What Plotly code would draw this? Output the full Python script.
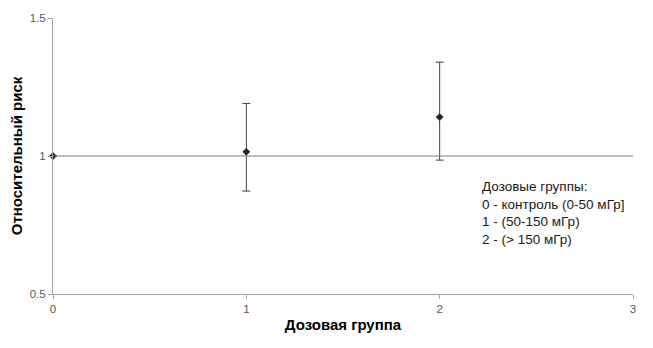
import plotly.graph_objects as go

groups = [0, 1, 2]
rr = [1.0, 1.015, 1.141]
ci_upper = [1.0, 1.19, 1.34]
ci_lower = [1.0, 0.873, 0.985]
x_ticks = [0, 1, 2, 3]
y_ticks = [0.5, 1, 1.5]
legend_lines = ["Дозовые группы:", "0 - контроль (0-50 мГр]", "1 - (50-150 мГр)", "2 - (> 150 мГр)"]

err_plus = [u - v for u, v in zip(ci_upper, rr)]
err_minus = [v - l for v, l in zip(rr, ci_lower)]

fig = go.Figure()
fig.add_hline(y=1, line=dict(color="#7f7f7f", width=1))
fig.add_trace(go.Scatter(
    x=groups, y=rr, mode="markers",
    marker=dict(symbol="diamond", size=6, color="#262626"),
    error_y=dict(type="data", symmetric=False, array=err_plus, arrayminus=err_minus,
                 color="#404040", thickness=1, width=4),
    showlegend=False, cliponaxis=False,
))

fig.add_annotation(
    x=0.736, y=0.425, xref="paper", yref="paper", xanchor="left", yanchor="top",
    text="<br>".join(legend_lines), showarrow=False, align="left",
    font=dict(family="Arial, Liberation Sans, sans-serif", size=13.5, color="#1a1a1a"),
)

fig.update_layout(
    width=645, height=340,
    margin=dict(l=45, r=20, t=10, b=54),
    paper_bgcolor="white", plot_bgcolor="white",
    font=dict(family="Arial, Liberation Sans, sans-serif", size=11.5, color="#595959"),
    xaxis=dict(range=[0, 3], tickvals=x_ticks, showgrid=False, zeroline=False,
               showline=True, linecolor="#a6a6a6", linewidth=1, automargin=False,
               ticks="outside", ticklen=4, tickcolor="#a6a6a6",
               title=dict(text="<b>Дозовая группа</b>", standoff=5,
                          font=dict(size=15, color="#000000"))),
    yaxis=dict(range=[0.5, 1.5], tickvals=y_ticks, ticktext=["0.5", "1", "1.5"],
               showgrid=False, zeroline=False, automargin=False,
               showline=True, linecolor="#a6a6a6", linewidth=1,
               ticks="outside", ticklen=4, tickcolor="#a6a6a6",
               title=dict(text="<b>Относительный риск</b>", standoff=8,
                          font=dict(size=15, color="#000000"))),
)

fig.write_html("out.html")
